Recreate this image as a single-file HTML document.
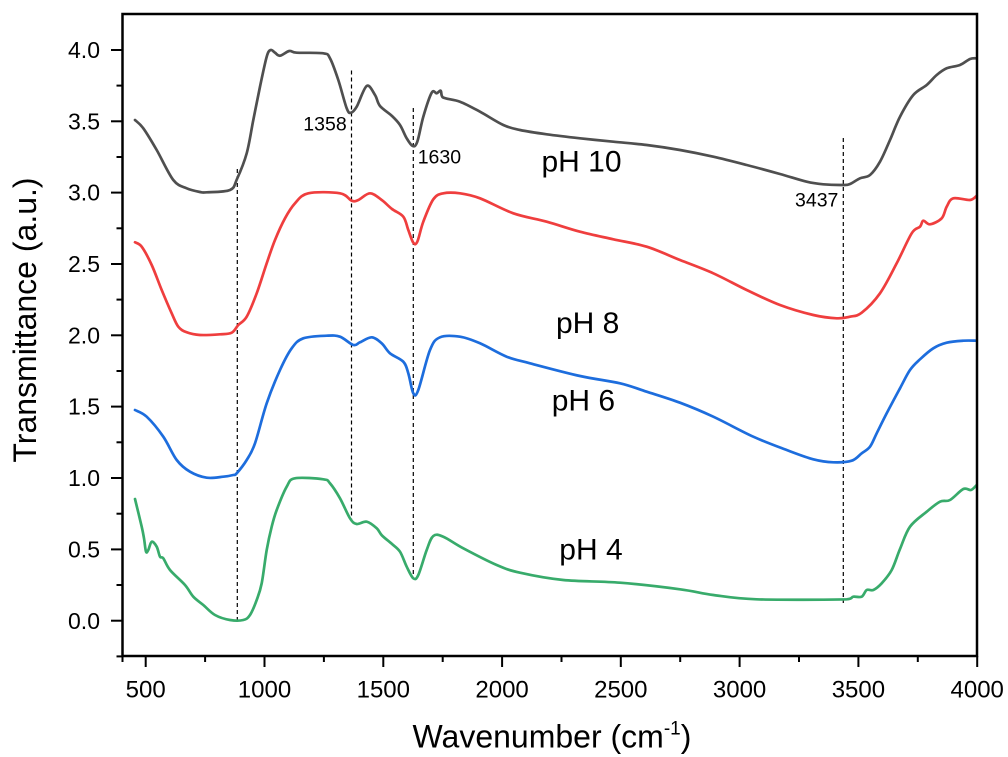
<!DOCTYPE html>
<html>
<head>
<meta charset="utf-8">
<style>
html,body{margin:0;padding:0;background:#fff;}
svg{display:block;}
text{font-family:"Liberation Sans",Arial,sans-serif;fill:#000;}
</style>
</head>
<body>
<svg id="chart" width="1008" height="757" viewBox="0 0 1008 757" xmlns="http://www.w3.org/2000/svg">
<rect width="1008" height="757" fill="#fff"/>

<!-- dashed reference lines -->
<g stroke="#000" stroke-width="1.2" stroke-dasharray="4,3" fill="none">
<line x1="237.3" y1="169" x2="237.3" y2="621"/>
<line x1="351.5" y1="70.5" x2="351.5" y2="520"/>
<line x1="413.3" y1="108" x2="413.3" y2="577"/>
<line x1="843.3" y1="138" x2="843.3" y2="603"/>
</g>

<!-- curves -->
<g id="curves" fill="none" stroke-width="2.7" stroke-linejoin="round" stroke-linecap="round">
<polyline stroke="#4f4f4f" points="135,120 143.3,128.3 156.7,150 173.3,180 186.7,188.3 200,192 206.7,192.3 230,190 237,179 246.7,153.3 253.3,120 260,86.7 266.7,56.7 270.7,50 275,52.7 280,55.7 289.3,51 296.7,52.7 323.3,53.3 330,58.3 338.3,80 346.7,108.3 351,112.7 356.7,106.7 366.7,86 375,95 380,106 392,116 400,125 406.7,138.3 412.7,146 417.3,141.7 423.3,116.7 431.7,92.7 436.7,93.3 440.7,90.7 442.7,97.3 460,101.7 480,111.7 503.3,125 520,130 546.7,134.3 580,138.3 613.3,141.7 646.7,145 680,150 713.3,156.7 746.7,165 780,174 806.7,181.7 823.3,184.3 843.3,185 850,184 860,178.3 870,175 880,161.7 890,140 900,116.7 913.3,95 926.7,85 936.7,75 946.7,68.3 960,65 970,59 976.7,58.3"/>
<polyline stroke="#ef3e3e" points="135,242.3 141.7,246.7 151.7,265 161.7,290 171.7,313.3 178.3,326.7 186.7,332.3 200,335 220,334.3 231.7,332.7 238.3,325 246.7,316.7 256.7,293.3 266.7,263.3 275,240 285,218.3 295,203.3 308.3,193.3 340,193.3 351.7,200.7 358.3,200 370,193.3 381.7,200 392,209 403.3,216.7 408.3,230 413.3,242.7 417.3,241.7 423.3,221.7 433.3,199.3 443.3,193.3 460,193.3 480,198.3 513.3,213.3 546.7,221.7 580,231.7 613.3,239.3 646.7,246.7 680,260 713.3,273.3 746.7,290 780,305 813.3,315 836.7,318.3 850,316.7 861.7,312.7 880,293.3 896.7,263.3 911.7,233.3 920,226.7 923.3,220.7 930,224.3 941.7,218.3 946.7,206.7 953.3,198.3 970,200 976.7,195.7"/>
<polyline stroke="#1d6ddd" points="135,410 146.7,416.7 163.3,436.7 176.7,460 190,471.7 206.7,477.7 223.3,476.7 233.3,475 236.7,473.3 246.7,460 255,443.3 266.7,403.3 280,370 291.7,348.3 303.3,338.3 326.7,335.7 340,336.7 353.3,345 360,342.3 371.7,337.3 381.7,343.3 390,353.3 403.3,361.7 408.3,373.3 413.3,393.3 418.3,390 430,350 440,337.3 460,336.7 480,343.3 506.7,356.7 530,363.3 580,376 620,383.3 646.7,391.7 680,402.7 713.3,416.7 753.3,436.7 786.7,450 813.3,459.3 833.3,462.3 851.7,460.7 861.7,453.3 870,446.7 876.7,433.3 886.7,413.3 900,388.3 910,370 920,359.3 933.3,348.3 946.7,342.7 963.3,340.7 976.7,340.7"/>
<polyline stroke="#38ab6b" points="135,499 141.7,526.7 144,538.3 146,551.7 148.3,550 151.7,541.7 156.7,546.7 160,556.7 163.3,558.3 170,570 185,585 193.3,596.7 203.3,605 215,615 230,620 243.3,620 250,615 256.7,600 261.7,583.3 266.7,550 271.7,526.7 276.7,510 286.7,486.7 295,478.3 323.3,479.3 330,483.3 340,498.3 350,518.3 356.7,524 366.7,521.7 376.7,528.3 382,535.5 392,544 400,551.7 406.7,566.7 413.3,578.3 418.3,575 426.7,550 433.3,536 443.3,536.7 463.3,548.3 496.7,565 520,572.7 563.3,580 620,582.7 680,589.3 713.3,595 756.7,599.3 846.7,599.3 853.3,596.7 861.7,596.7 866.7,590 873.3,590 881.7,583.3 891.7,570 900,549 910,526.7 926.7,511.7 940,501.7 950,500 963.3,489 971,490 976.7,485"/>
</g>

<!-- axes box -->
<g stroke="#000" stroke-width="2.5" fill="none">
<rect x="122.5" y="14" width="854.5" height="642"/>
</g>

<!-- x ticks -->
<g stroke="#000" stroke-width="2">
<line x1="145.7" y1="656" x2="145.7" y2="667"/>
<line x1="264.5" y1="656" x2="264.5" y2="667"/>
<line x1="383.3" y1="656" x2="383.3" y2="667"/>
<line x1="502.1" y1="656" x2="502.1" y2="667"/>
<line x1="620.8" y1="656" x2="620.8" y2="667"/>
<line x1="739.6" y1="656" x2="739.6" y2="667"/>
<line x1="858.4" y1="656" x2="858.4" y2="667"/>
<line x1="977.2" y1="656" x2="977.2" y2="667"/>
<line x1="122.5" y1="656" x2="122.5" y2="662"/>
<line x1="205.1" y1="656" x2="205.1" y2="662"/>
<line x1="323.9" y1="656" x2="323.9" y2="662"/>
<line x1="442.7" y1="656" x2="442.7" y2="662"/>
<line x1="561.5" y1="656" x2="561.5" y2="662"/>
<line x1="680.2" y1="656" x2="680.2" y2="662"/>
<line x1="799" y1="656" x2="799" y2="662"/>
<line x1="917.8" y1="656" x2="917.8" y2="662"/>
</g>

<!-- y ticks -->
<g stroke="#000" stroke-width="2">
<line x1="111" y1="620.7" x2="122.5" y2="620.7"/>
<line x1="111" y1="549.4" x2="122.5" y2="549.4"/>
<line x1="111" y1="478" x2="122.5" y2="478"/>
<line x1="111" y1="406.6" x2="122.5" y2="406.6"/>
<line x1="111" y1="335.3" x2="122.5" y2="335.3"/>
<line x1="111" y1="264" x2="122.5" y2="264"/>
<line x1="111" y1="192.6" x2="122.5" y2="192.6"/>
<line x1="111" y1="121.3" x2="122.5" y2="121.3"/>
<line x1="111" y1="50" x2="122.5" y2="50"/>
<line x1="116.5" y1="656.4" x2="122.5" y2="656.4"/>
<line x1="116.5" y1="585" x2="122.5" y2="585"/>
<line x1="116.5" y1="513.7" x2="122.5" y2="513.7"/>
<line x1="116.5" y1="442.3" x2="122.5" y2="442.3"/>
<line x1="116.5" y1="371" x2="122.5" y2="371"/>
<line x1="116.5" y1="299.6" x2="122.5" y2="299.6"/>
<line x1="116.5" y1="228.3" x2="122.5" y2="228.3"/>
<line x1="116.5" y1="157" x2="122.5" y2="157"/>
<line x1="116.5" y1="85.6" x2="122.5" y2="85.6"/>
</g>

<!-- x tick labels -->
<g font-size="24" text-anchor="middle">
<text x="145.7" y="697.3">500</text>
<text x="264.5" y="697.3">1000</text>
<text x="383.3" y="697.3">1500</text>
<text x="502.1" y="697.3">2000</text>
<text x="620.8" y="697.3">2500</text>
<text x="739.6" y="697.3">3000</text>
<text x="858.4" y="697.3">3500</text>
<text x="977.2" y="697.3">4000</text>
</g>

<!-- y tick labels -->
<g font-size="23" text-anchor="end">
<text x="100" y="628.8">0.0</text>
<text x="100" y="557.5">0.5</text>
<text x="100" y="486.1">1.0</text>
<text x="100" y="414.7">1.5</text>
<text x="100" y="343.4">2.0</text>
<text x="100" y="272.1">2.5</text>
<text x="100" y="200.7">3.0</text>
<text x="100" y="129.4">3.5</text>
<text x="100" y="58.1">4.0</text>
</g>

<!-- axis titles -->
<text x="412.5" y="747.3" font-size="32">Wavenumber (cm<tspan font-size="19" dy="-13">-1</tspan><tspan dy="13">)</tspan></text>
<text transform="translate(36,320) rotate(-90)" font-size="32" text-anchor="middle">Transmittance (a.u.)</text>

<!-- series labels -->
<g font-size="30">
<text x="541.5" y="171.7">pH 10</text>
<text x="556" y="333">pH 8</text>
<text x="551.7" y="410.7">pH 6</text>
<text x="559.3" y="559.3">pH 4</text>
</g>

<!-- peak annotations -->
<g font-size="19.5">
<text x="303.3" y="130.7">1358</text>
<text x="417.7" y="163.3">1630</text>
<text x="795" y="206.7">3437</text>
</g>
</svg>
<script>
(function(){
  try{
    var ns="http://www.w3.org/2000/svg";
    var g=document.getElementById("curves");
    var pls=g.getElementsByTagName("polyline");
    var list=[];
    for(var i=0;i<pls.length;i++) list.push(pls[i]);
    list.forEach(function(pl){
      var raw=pl.getAttribute("points").trim().split(/\s+/).map(function(s){var a=s.split(",");return [parseFloat(a[0]),parseFloat(a[1])];});
      if(raw.length<3) return;
      var d="M"+raw[0][0]+","+raw[0][1];
      for(var k=0;k<raw.length-1;k++){
        var p0=raw[k-1]||raw[k], p1=raw[k], p2=raw[k+1], p3=raw[k+2]||raw[k+1];
        var t=6;
        var c1x=p1[0]+(p2[0]-p0[0])/t, c1y=p1[1]+(p2[1]-p0[1])/t;
        var c2x=p2[0]-(p3[0]-p1[0])/t, c2y=p2[1]-(p3[1]-p1[1])/t;
        // keep control x monotone within segment
        if(c1x<p1[0]) c1x=p1[0]; if(c1x>p2[0]) c1x=p2[0];
        if(c2x<p1[0]) c2x=p1[0]; if(c2x>p2[0]) c2x=p2[0];
        d+=" C"+c1x.toFixed(2)+","+c1y.toFixed(2)+" "+c2x.toFixed(2)+","+c2y.toFixed(2)+" "+p2[0]+","+p2[1];
      }
      var p=document.createElementNS(ns,"path");
      p.setAttribute("d",d);
      p.setAttribute("stroke",pl.getAttribute("stroke"));
      g.insertBefore(p,pl);
      g.removeChild(pl);
    });
  }catch(e){}
})();
</script>
</body>
</html>
